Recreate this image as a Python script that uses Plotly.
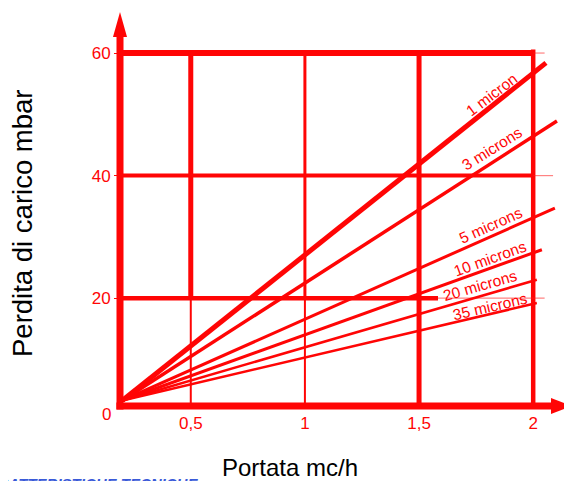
import plotly.graph_objects as go

# ---- data ----
series_labels = ["1 micron", "3 microns", "5 microns", "10 microns", "20 microns", "35 microns"]
origin_x = 0.2          # drawn origin corner of the diagram
origin_y = 3.3
end_x = [2.056, 2.104, 2.095, 2.038, 2.016, 2.016]
end_y = [58.4, 48.9, 34.7, 27.9, 23.0, 19.2]
label_x = [1.819, 1.819, 1.811, 1.811, 1.767, 1.811]
label_y = [53.2, 44.5, 31.9, 26.5, 22.1, 18.7]
label_angle = [-37, -32, -24, -20, -16, -13]
line_width = [5, 3.5, 3, 3, 2.5, 2.5]

x_ticks = [0.5, 1, 1.5, 2]
x_tick_text = ["0,5", "1", "1,5", "2"]
y_ticks = [20, 40, 60]
y_tick_text = ["20", "40", "60"]

RED = "#ff0505"
PINK = "rgba(255,30,30,0.55)"
FONT = "Liberation Sans, Arial, sans-serif"

X0, X1 = 0.19, 2.17
Y0, Y1 = 2.4, 66.7

fig = go.Figure()
for i, name in enumerate(series_labels):
    fig.add_trace(go.Scatter(
        x=[origin_x, end_x[i]], y=[origin_y, end_y[i]],
        mode="lines", line=dict(color=RED, width=line_width[i]),
        name=name, showlegend=False, hoverinfo="skip"))

shapes = []
def seg(x0, y0, x1, y1, w, c=RED, ref="data"):
    xr, yr = ("x", "y") if ref == "data" else ("paper", "paper")
    shapes.append(dict(type="line", xref=xr, yref=yr, x0=x0, y0=y0, x1=x1, y1=y1,
                       line=dict(color=c, width=w), layer="below"))

# vertical grid lines
seg(x_ticks[0], Y0, x_ticks[0], y_ticks[0], 2)
seg(x_ticks[0], y_ticks[0], x_ticks[0], y_ticks[2], 5)
seg(x_ticks[1], Y0, x_ticks[1], y_ticks[0], 2)
seg(x_ticks[1], y_ticks[0], x_ticks[1], y_ticks[2], 3)
seg(x_ticks[2], Y0, x_ticks[2], y_ticks[2], 5)
seg(x_ticks[3], Y0, x_ticks[3], y_ticks[2] + 0.6, 4.5)
# horizontal grid lines
seg(X0, y_ticks[2], x_ticks[3], y_ticks[2], 6)
seg(x_ticks[3], y_ticks[2], 2.05, y_ticks[2], 1.2, PINK)
seg(X0, y_ticks[1], x_ticks[3], y_ticks[1], 4)
seg(x_ticks[3], y_ticks[1], 2.087, y_ticks[1], 1.2, PINK)
seg(X0, y_ticks[0], 1.583, y_ticks[0], 4.5)
seg(1.583, y_ticks[0], 2.05, y_ticks[0], 1.2, PINK)

# axes (paper coords) with arrows
seg(0, -0.009, 0, 0.94, 7, ref="paper")
seg(-0.008, 0, 0.96, 0, 7, ref="paper")
shapes.append(dict(type="path", xref="paper", yref="paper",
                   path="M 0 1.0 L -0.0155 0.9365 L 0.0155 0.9365 Z",
                   fillcolor=RED, line=dict(width=0)))
shapes.append(dict(type="path", xref="paper", yref="paper",
                   path="M 1.0 0 L 0.9535 0.0203 L 0.9535 -0.0203 Z",
                   fillcolor=RED, line=dict(width=0)))

annotations = []
for i, name in enumerate(series_labels):
    annotations.append(dict(x=label_x[i], y=label_y[i], xref="x", yref="y", text=name,
                            showarrow=False, textangle=label_angle[i],
                            font=dict(family=FONT, size=15.5, color=RED),
                            xanchor="center", yanchor="middle"))
annotations.append(dict(x=-0.0155, y=-0.0228, xref="paper", yref="paper", text="0",
                        showarrow=False, xanchor="right", yanchor="middle",
                        font=dict(family=FONT, size=17, color=RED)))
annotations.append(dict(x=0.376, y=-0.157, xref="paper", yref="paper", text="Portata mc/h",
                        showarrow=False, xanchor="center", yanchor="middle",
                        font=dict(family=FONT, size=24, color="black")))
annotations.append(dict(x=-0.2146, y=0.462, xref="paper", yref="paper",
                        text="Perdita di carico mbar", textangle=-90,
                        showarrow=False, xanchor="center", yanchor="middle",
                        font=dict(family=FONT, size=27.5, color="black")))
annotations.append(dict(x=0.177, y=-0.1712, xref="paper", yref="paper",
                        text="<b><i>CARATTERISTICHE TECNICHE</i></b>",
                        showarrow=False, xanchor="right", yanchor="top",
                        font=dict(family=FONT, size=15, color="#3a5ad8")))

# page body has an 8px margin: figure is 564x473 so that it fills the 572x481 window
fig.update_layout(
    width=564, height=473,
    margin=dict(l=112, r=0, t=4, b=75),
    paper_bgcolor="white", plot_bgcolor="white",
    shapes=shapes, annotations=annotations,
    xaxis=dict(range=[X0, X1], showgrid=False, zeroline=False, showline=False,
               tickvals=x_ticks, ticktext=x_tick_text, ticks="",
               ticklabelstandoff=5,
               tickfont=dict(family=FONT, size=17, color=RED), fixedrange=True),
    yaxis=dict(range=[Y0, Y1], showgrid=False, zeroline=False, showline=False,
               tickvals=y_ticks, ticktext=y_tick_text, ticks="outside",
               ticklen=5, tickwidth=1, tickcolor=RED,
               tickfont=dict(family=FONT, size=17, color=RED), fixedrange=True),
)

fig.write_html("out.html")
